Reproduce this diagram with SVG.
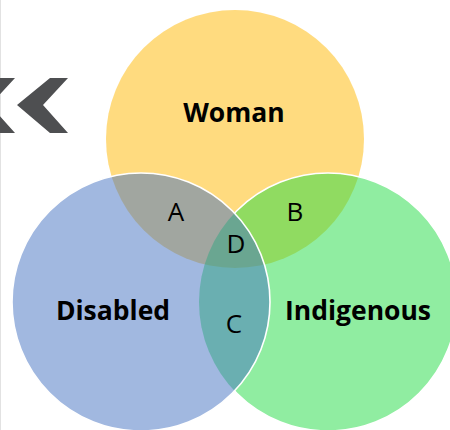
<svg xmlns="http://www.w3.org/2000/svg" width="450" height="430" viewBox="0 0 450 430">
  <style>
    .set { fill-opacity: 0.5; }
    .title { font-family: "Open Sans", "Liberation Sans", sans-serif; font-weight: bold; font-size: 26.5px; fill: #000; text-anchor: middle; }
    .zone { font-family: "Open Sans", "Liberation Sans", sans-serif; font-size: 26px; fill: #000; text-anchor: middle; }
    .chev { fill: #4e4f51; }
  </style>
  <defs>
    <!-- everything outside the Disabled circle -->
    <clipPath id="outsideDisabled">
      <path clip-rule="evenodd" d="M-10,-10 H460 V440 H-10 Z M12,302 A129,129 0 1,0 270,302 A129,129 0 1,0 12,302 Z"/>
    </clipPath>
  </defs>

  <rect width="450" height="430" fill="#ffffff"/>
  <!-- thin page edge on the left -->
  <line x1="0.5" y1="0" x2="0.5" y2="430" stroke="#e2e2e2" stroke-width="1"/>

  <!-- double chevron -->
  <g id="chevrons">
    <polygon class="chev" points="-3,78 15,78 -10,105 15,133 -3,133 -36,105"/>
    <polygon class="chev" points="50,78 68,78 43,105 68,133 50,133 17,105"/>
  </g>

  <g id="woman">
    <circle class="set" cx="235" cy="139" r="129" fill="#ffb800"/>
  </g>
  <g id="indigenous">
    <circle class="set" cx="328" cy="302" r="129" fill="#21db43"/>
  </g>
  <g id="disabled">
    <circle class="set" cx="141" cy="302" r="129" fill="#4371c1"/>
  </g>

  <!-- outlines -->
  <g id="outlines" fill="none" stroke="#ffffff" stroke-width="1.6">
    <circle cx="328" cy="302" r="129" clip-path="url(#outsideDisabled)"/>
    <circle cx="141" cy="302" r="129"/>
  </g>

  <!-- labels -->
  <g id="labels">
    <text class="title" x="234" y="122">Woman</text>
    <text class="title" x="113" y="320">Disabled</text>
    <text class="title" x="358" y="320">Indigenous</text>
    <text class="zone" x="176" y="221">A</text>
    <text class="zone" x="295" y="221">B</text>
    <text class="zone" x="234" y="333">C</text>
    <text class="zone" x="236" y="253">D</text>
  </g>
</svg>
